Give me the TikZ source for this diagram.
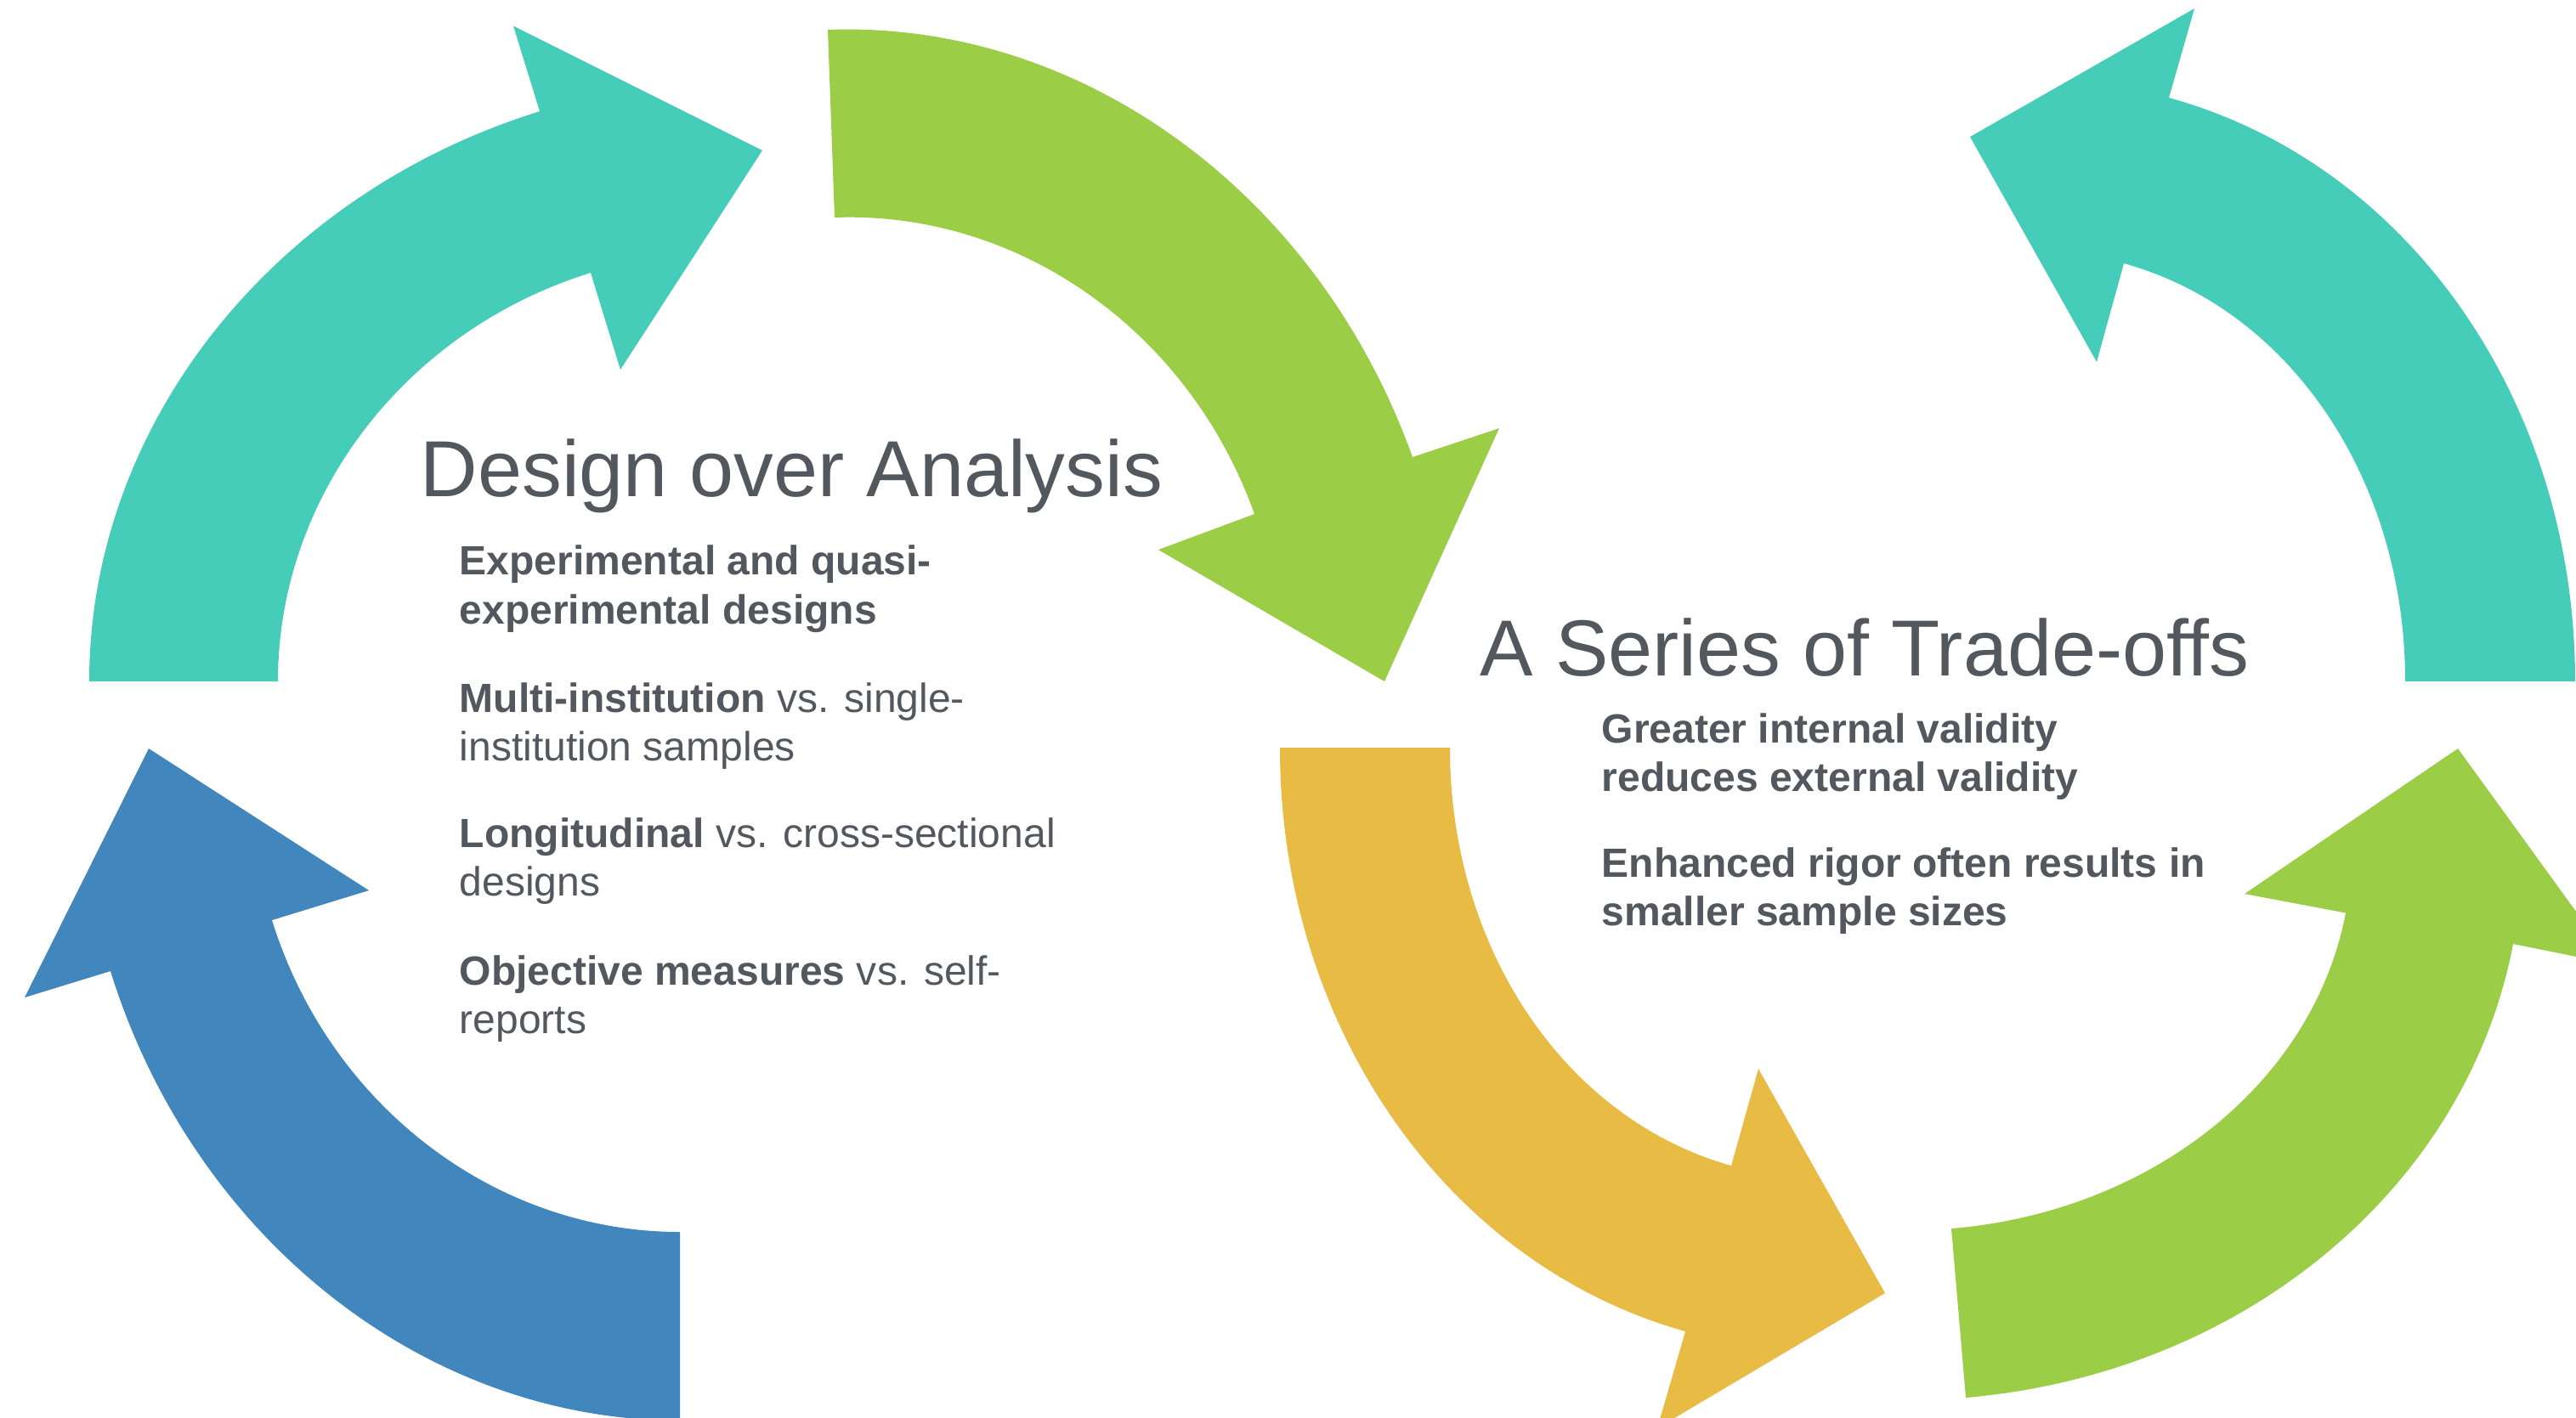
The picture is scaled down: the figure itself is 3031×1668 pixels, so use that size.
\documentclass[tikz,border=0pt]{standalone}
\usepackage{fontspec}
\setmainfont{Liberation Sans}
\definecolor{cycteal}{HTML}{46CDB9}
\definecolor{cycgreen}{HTML}{9BCD47}
\definecolor{cycblue}{HTML}{4187BD}
\definecolor{cycyellow}{HTML}{E8BB44}
\definecolor{ink}{HTML}{53585F}
\begin{document}
\begin{tikzpicture}[x=0.01cm,y=-0.01cm,
  titletext/.style={anchor=base west, inner sep=0pt, text=ink,
    font=\fontsize{26.6pt}{31pt}\selectfont},
  % two-line blocks: the base anchor sits on the last line
  itemtext/.style={anchor=base west, inner sep=0pt, text=ink, align=left,
    font=\fontsize{13.66pt}{16.36pt}\selectfont}]
\useasboundingbox (0,0) rectangle (3031,1668);
\begin{scope}
\clip (0,0) rectangle (3031,1668);
% left cycle: teal, green, blue
\fill[cycteal] (105,802) .. controls (105,501) and (320,229) .. (635,131)
  -- (604,30.5) -- (897,177) -- (730,435) -- (695,321)
  .. controls (476.6,389) and (327,584) .. (327,802) -- cycle;
\fill[cycgreen] (974,35) .. controls (1273,24) and (1551,228) .. (1662,538)
  -- (1764,504) -- (1629,802) -- (1363,647) -- (1476,605)
  .. controls (1399,389.5) and (1199,248) .. (982,256) -- cycle;
\fill[cycblue] (800,1672) .. controls (499.7,1672) and (227.7,1457) .. (130,1143)
  -- (29,1174) -- (175,881) -- (434,1048) -- (320,1083)
  .. controls (387.8,1301) and (582.6,1450) .. (800,1450) -- cycle;
% right cycle: yellow, green, teal
\fill[cycyellow] (1506,880) .. controls (1506,1207) and (1701,1488) .. (1983,1567)
  -- (1950,1681) -- (2218,1522) -- (2069,1258) -- (2037,1372)
  .. controls (1841,1317) and (1706,1116) .. (1706,880) -- cycle;
\fill[cycgreen] (2313,1645) .. controls (2639,1617) and (2902,1399) .. (2957,1111)
  -- (3076,1135) -- (2892,881) -- (2641,1052) -- (2760,1074.5)
  .. controls (2722,1274) and (2532.5,1426) .. (2296,1446) -- cycle;
\fill[cycteal] (3030,802) .. controls (3030,474) and (2835,193) .. (2552,115)
  -- (2582,10) -- (2318,161) -- (2467,426) -- (2499,310)
  .. controls (2695,364) and (2830,565) .. (2830,802) -- cycle;
\end{scope}
% text
\node[titletext] (designtitle) at (494,584) {Design over Analysis};
\node[itemtext] (itemA) at (540,734.5) {\bfseries Experimental and quasi-\\\bfseries experimental designs};
\node[itemtext] (itemB) at (540,895.5) {\textbf{Multi-institution} vs. single-\\institution samples};
\node[itemtext] (itemC) at (540,1054.5) {\textbf{Longitudinal} vs. cross-sectional\\designs};
\node[itemtext] (itemD) at (540,1216.5) {\textbf{Objective measures} vs. self-\\reports};
\node[titletext] (tradetitle) at (1741,795) {A Series of Trade-offs};
\node[itemtext] (itemE) at (1884,931.5) {\bfseries Greater internal validity\\\bfseries reduces external validity};
\node[itemtext] (itemF) at (1884,1089.5) {\bfseries Enhanced rigor often results in\\\bfseries smaller sample sizes};
\end{tikzpicture}
\end{document}
